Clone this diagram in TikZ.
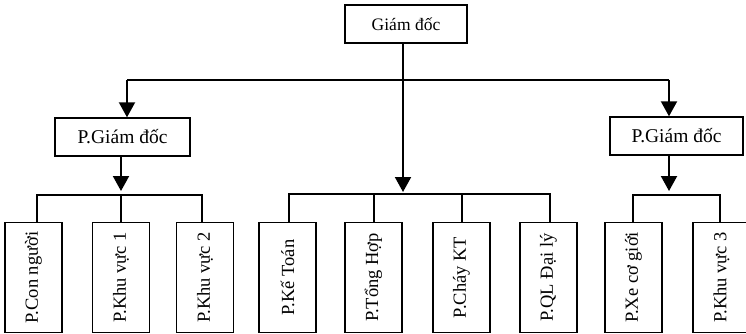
\documentclass[tikz,border=0pt]{standalone}
\usepackage{fontspec}
\setmainfont{Liberation Serif}
\usetikzlibrary{arrows.meta}
\begin{document}
\begin{tikzpicture}[x=1pt,y=-1pt,
  box/.style={draw,line width=1.4pt,inner sep=0pt},
  vbox/.style={box,minimum width=57pt,minimum height=110pt,font=\fontsize{18.5}{22}\selectfont},
  pbox/.style={box,minimum height=38pt,font=\fontsize{19.5}{23}\selectfont},
  link/.style={line width=2pt},
  arr/.style={link,-{Triangle[length=15pt,width=16pt]}}]
\useasboundingbox (0,0) rectangle (746,334);
% top
\node[box,minimum width=122pt,minimum height=38pt,font=\fontsize{17.5}{21}\selectfont] (gd) at (406,24) {Giám đốc};
\node[pbox,minimum width=135pt] (pl) at (122.5,137) {P.Giám đốc};
\node[pbox,minimum width=133pt] (pr) at (676.5,136) {P.Giám đốc};
% bottom boxes
\node[vbox] (b1) at (33.5,277.5) {\rotatebox{90}{P.Con người}};
\node[vbox] (b2) at (121,277.5) {\rotatebox{90}{P.Khu vực 1}};
\node[vbox] (b3) at (205,277.5) {\rotatebox{90}{P.Khu vực 2}};
\node[vbox] (b4) at (287.5,277.5) {\rotatebox{90}{P.Kế Toán}};
\node[vbox] (b5) at (373.5,277.5) {\rotatebox{90}{P.Tổng Hợp}};
\node[vbox] (b6) at (461.5,277.5) {\rotatebox{90}{P.Cháy KT}};
\node[vbox] (b7) at (548.5,277.5) {\rotatebox{90}{P.QL Đại lý}};
\node[vbox] (b8) at (633.5,277.5) {\rotatebox{90}{P.Xe cơ giới}};
\node[vbox] (b9) at (721.5,277.5) {\rotatebox{90}{P.Khu vực 3}};
% coordinates
\coordinate (s0) at (403,44);
\coordinate (hl) at (127,80);
\coordinate (hr) at (669,80);
\coordinate (hm) at (403,80);
\coordinate (ml) at (37,195);
\coordinate (mr) at (202,195);
\coordinate (cl) at (289,194);
\coordinate (cr) at (550,194);
\coordinate (rl) at (633,195);
\coordinate (rr) at (720,195);
% top level
\draw[link] (gd.south -| s0) -- (hm);
\draw[link] (hl) -- (hr);
\draw[arr] (hl) -- (hl |- pl.north);
\draw[arr] (hr) -- (hr |- pr.north);
\draw[arr] (hm) -- (403,192);
% left group
\draw[arr] (121,156) -- (121,191);
\draw[link] (ml |- b1.north) -- (ml) -- (mr) -- (mr |- b3.north);
\draw[link] (121,195) -- (b2.north);
% middle group
\draw[link] (cl |- b4.north) -- (cl) -- (cr) -- (cr |- b7.north);
\draw[link] (b5.north) -- (b5.north |- cl);
\draw[link] (b6.north) -- (b6.north |- cl);
% right group
\draw[arr] (669,155) -- (669,191);
\draw[link] (rl |- b8.north) -- (rl) -- (rr) -- (rr |- b9.north);
\end{tikzpicture}
\end{document}
